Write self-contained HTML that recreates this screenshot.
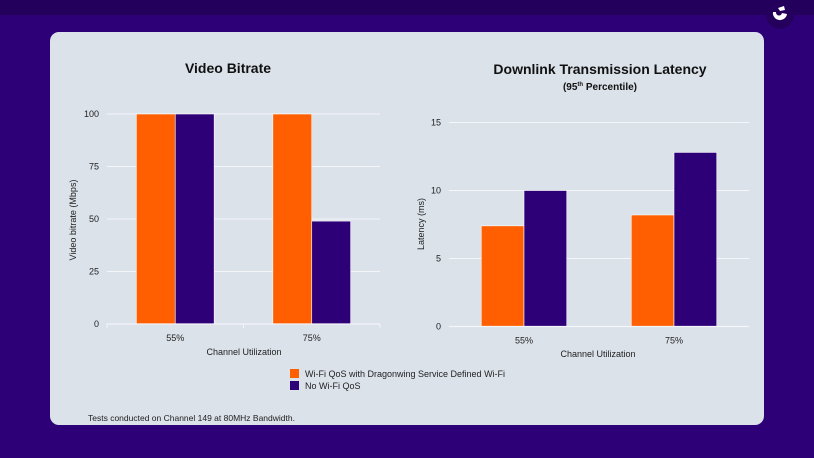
<!DOCTYPE html>
<html><head><meta charset="utf-8"><style>
html,body{margin:0;padding:0;width:814px;height:458px;overflow:hidden;background:#2e0078;font-family:"Liberation Sans",sans-serif;}
#top{position:absolute;left:0;top:0;width:814px;height:15px;background:#23005c;}
#card{position:absolute;left:50px;top:32px;width:714px;height:393px;background:#dbe2ea;border-radius:9px;}
svg{position:absolute;left:0;top:0;}
</style></head><body>
<div id="top"></div>
<div id="card"></div>
<svg id="s" width="814" height="458">
<circle cx="780" cy="15" r="14" fill="#24005c"/>
<path d="M773 12 a7 7 0 1 0 14 2 l-5 -1 a3 3 0 0 1 -6 -1z M778 8 l6 -2 l1 4 l-5 1z" fill="#fff"/>
<text x="228" y="73" text-anchor="middle" font-size="14" font-weight="bold" fill="#111">Video Bitrate</text>
<text x="600" y="74" text-anchor="middle" font-size="14" font-weight="bold" fill="#111">Downlink Transmission Latency</text>
<text x="600" y="90" text-anchor="middle" font-size="10" font-weight="bold" fill="#111">(95<tspan font-size="6" dy="-4">th</tspan><tspan dy="4"> Percentile)</tspan></text>
<text x="76" y="220" transform="rotate(-90 76 220)" text-anchor="middle" font-size="9" fill="#222">Video bitrate (Mbps)</text>
<text x="424" y="224" transform="rotate(-90 424 224)" text-anchor="middle" font-size="9" fill="#222">Latency (ms)</text>
<text x="244" y="355" text-anchor="middle" font-size="9" fill="#222">Channel Utilization</text>
<text x="598" y="357" text-anchor="middle" font-size="9" fill="#222">Channel Utilization</text>
<rect x="290" y="369" width="9" height="9" fill="#ff5f00"/>
<text x="305" y="377" font-size="9" fill="#222">Wi-Fi QoS with Dragonwing Service Defined Wi-Fi</text>
<rect x="290" y="381" width="9" height="9" fill="#2e0078"/>
<text x="305" y="389" font-size="9" fill="#222">No Wi-Fi QoS</text>
<text x="88" y="421" font-size="8.5" fill="#222">Tests conducted on Channel 149 at 80MHz Bandwidth.</text>
</svg>
<script>
const categories = ["55%", "75%"];
const bitrateQos = [100, 100];
const bitrateNoQos = [100, 49];
const bitrateTicks = [0, 25, 50, 75, 100];
const latencyQos = [7.4, 8.2];
const latencyNoQos = [10.0, 12.8];
const latencyTicks = [0, 5, 10, 15];

const NS = "http://www.w3.org/2000/svg";
const svg = document.getElementById('s');
function mk(tag, attrs) {
  const e = document.createElementNS(NS, tag);
  for (const k in attrs) e.setAttribute(k, attrs[k]);
  svg.appendChild(e);
  return e;
}
function drawChart(cfg) {
  const y = v => cfg.y0 - (v - cfg.min) / (cfg.max - cfg.min) * (cfg.y0 - cfg.y1);
  const band = (cfg.x1 - cfg.x0) / categories.length;
  cfg.ticks.forEach(t => {
    const l = mk('line', {x1: cfg.x0, x2: cfg.x1, y1: y(t), y2: y(t), stroke: '#f4f6f9', 'stroke-width': 1});
    
    
    const tx = mk('text', {x: cfg.x0 - 8, y: y(t) + 3, 'text-anchor': 'end', 'font-size': 9, fill: '#222'});
    tx.textContent = t;
    
    
  });
  const bw = band * cfg.barFrac;
  categories.forEach((c, i) => {
    const cx = cfg.x0 + band * (i + 0.5);
    [[cfg.s1, '#ff5f00', 'qos'], [cfg.s2, '#2e0078', 'noqos']].forEach((s, j) => {
      const v = s[0][i];
      const r = mk('rect', {x: cx - bw + j * bw, y: y(v), width: bw, height: y(cfg.min) - y(v), fill: s[1], stroke: '#fff', 'stroke-width': 0.6});
      
      
    });
    const tl = mk('text', {x: cx, y: cfg.y0 + 17, 'text-anchor': 'middle', 'font-size': 9, fill: '#222'});
    tl.textContent = c;
    
    
  });
  const ax = mk('line', {x1: cfg.x0, x2: cfg.x1, y1: cfg.y0, y2: cfg.y0, stroke: '#f4f6f9', 'stroke-width': 1.2});
  
  
  if (cfg.tickMarks) {
    for (let i = 0; i <= categories.length; i++) {
      const tm = mk('line', {x1: cfg.x0 + band * i, x2: cfg.x0 + band * i, y1: cfg.y0, y2: cfg.y0 + 4, stroke: '#f4f6f9'});
      
      
    }
  }
}
drawChart({id: 'bitrate', x0: 107, x1: 380, y0: 324, y1: 114, min: 0, max: 100, ticks: bitrateTicks, s1: bitrateQos, s2: bitrateNoQos, barFrac: 0.285, tickMarks: true});
drawChart({id: 'latency', x0: 449, x1: 749, y0: 326.5, y1: 122.5, min: 0, max: 15, ticks: latencyTicks, s1: latencyQos, s2: latencyNoQos, barFrac: 0.285, tickMarks: false});
</script>
</body></html>
